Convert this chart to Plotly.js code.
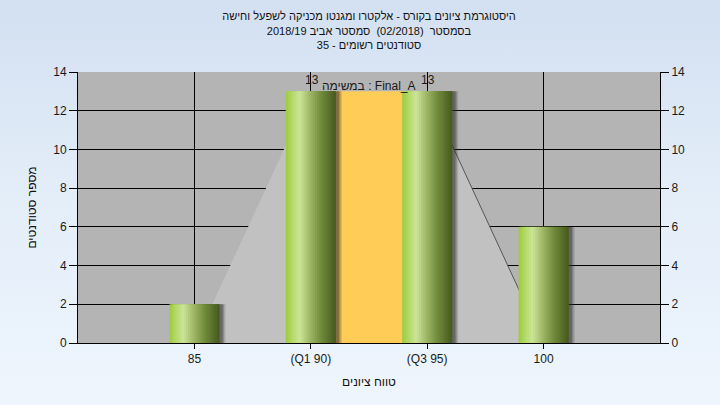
<!DOCTYPE html>
<html>
<head>
<meta charset="utf-8">
<script src="https://cdn.plot.ly/plotly-3.0.1.min.js"></script>
<style>
  html, body { margin: 0; padding: 0; width: 720px; height: 405px; overflow: hidden;
    background: linear-gradient(to bottom, #d3e0f1 0%, #e4eef9 50%, #eef5fd 100%); }
  #chart { width: 720px; height: 405px; }
</style>
</head>
<body>
<div id="chart"></div>
<script>
// ---- data ----
const categories = ['85', '(Q1 90)', '(Q3 95)', '100'];
const counts = [2, 13, 13, 6];
const yTickVals = [0, 2, 4, 6, 8, 10, 12, 14];
const titleLines = [
  'היסטוגרמת ציונים בקורס - אלקטרו ומגנטו מכניקה לשפעל וחישה',
  'בסמסטר  (02/2018)  סמסטר אביב 2018/19',
  'סטודנטים רשומים - 35'
];
const xTitle = 'טווח ציונים';
const yTitle = 'מספר סטודנטים';
const boxLabel = 'במשימה : Final_A';
const q1Index = 1;
const q3Index = 2;

// ---- styling helpers ----
const FONT = 'Arial, "Liberation Sans", "DejaVu Sans", sans-serif';
const BAR_W = 0.43;
const N_SLICES = 24;
const stops = [
  [0.00, [157, 202, 60]],
  [0.12, [178, 216, 101]],
  [0.28, [203, 229, 153]],
  [0.45, [166, 190, 110]],
  [0.70, [113, 140, 60]],
  [1.00, [70, 88, 30]]
];
function gradColor(t) {
  for (let i = 0; i < stops.length - 1; i++) {
    const [p0, c0] = stops[i], [p1, c1] = stops[i + 1];
    if (t >= p0 && t <= p1) {
      const f = (t - p0) / (p1 - p0);
      const c = c0.map((v, j) => Math.round(v + (c1[j] - v) * f));
      return `rgb(${c[0]},${c[1]},${c[2]})`;
    }
  }
  return 'rgb(70,88,30)';
}

const maxCount = Math.max(...counts);
const traces = [];

// light grey trapezoid (min -> Q1 -> Q3 -> max)
traces.push({
  type: 'scatter', mode: 'lines', xaxis: 'x', yaxis: 'y',
  x: [categories[0], categories[q1Index], categories[q3Index], categories[3], categories[0]],
  y: [0, maxCount, maxCount, 0, 0],
  fill: 'toself', fillcolor: '#c1c1c1', line: {width: 0, color: 'rgba(0,0,0,0)'},
  hoverinfo: 'skip', showlegend: false
});
// right edge line
traces.push({
  type: 'scatter', mode: 'lines', xaxis: 'x', yaxis: 'y',
  x: [categories[q3Index], categories[3]],
  y: [maxCount, 0],
  line: {width: 1, color: '#555555'},
  hoverinfo: 'skip', showlegend: false
});
// orange interquartile box
traces.push({
  type: 'scatter', mode: 'lines', xaxis: 'x', yaxis: 'y',
  x: [categories[q1Index], categories[q1Index], categories[q3Index], categories[q3Index], categories[q1Index]],
  y: [0, maxCount, maxCount, 0, 0],
  fill: 'toself', fillcolor: '#ffcc57', line: {width: 0, color: 'rgba(0,0,0,0)'},
  hoverinfo: 'skip', showlegend: false
});

// shadows (on overlay axis so they sit above the background shapes)
const shadowLayers = [[0.052, 'rgba(60,60,60,0.18)'], [0.040, 'rgba(50,50,50,0.25)'], [0.028, 'rgba(40,40,40,0.35)']];
shadowLayers.forEach(([dx, col]) => {
  traces.push({
    type: 'bar', xaxis: 'x', yaxis: 'y2',
    x: categories, y: counts,
    width: BAR_W, offset: -BAR_W / 2 + dx,
    marker: {color: col, line: {width: 0}},
    hoverinfo: 'skip', showlegend: false
  });
});

// cylinder-shaded bars made of overlapping thin slices
const sliceW = BAR_W / N_SLICES;
for (let k = 0; k < N_SLICES; k++) {
  const off = -BAR_W / 2 + k * sliceW;
  const w = Math.min(2.5 * sliceW, BAR_W / 2 - off);
  traces.push({
    type: 'bar', xaxis: 'x', yaxis: 'y2',
    x: categories, y: counts,
    width: w, offset: off,
    marker: {color: gradColor((k + 0.5) / N_SLICES), line: {width: 0}},
    hoverinfo: 'skip', showlegend: false
  });
}

const annotations = counts.map((v, i) => ({
  x: categories[i], y: v, xref: 'x', yref: 'y2',
  text: String(v), showarrow: false, yanchor: 'bottom', yshift: 2, xshift: 1,
  font: {family: FONT, size: 12, color: '#1a1a1a'}
}));
annotations.push({
  x: (q1Index + q3Index) / 2, y: maxCount, xref: 'x', yref: 'y2',
  text: boxLabel, showarrow: false, yanchor: 'bottom', yshift: -4,
  font: {family: FONT, size: 12, color: '#1a1a1a'}
});

const axisCommon = {
  showline: true, linecolor: '#000', linewidth: 1,
  ticks: 'outside', tickcolor: '#000', tickwidth: 1,
  tickfont: {family: FONT, size: 12, color: '#1a1a1a'},
  zeroline: false
};

const layout = {
  width: 720, height: 405,
  paper_bgcolor: 'rgba(0,0,0,0)',
  plot_bgcolor: '#b4b4b4',
  margin: {l: 78, r: 60, t: 72, b: 62},
  barmode: 'overlay',
  showlegend: false,
  title: {
    text: titleLines.join('<br>'),
    font: {family: FONT, size: 11, color: '#111'},
    x: 0.5, xanchor: 'center', xref: 'paper',
    y: 0.95, yanchor: 'top'
  },
  xaxis: Object.assign({}, axisCommon, {
    type: 'category', categoryorder: 'array', categoryarray: categories,
    range: [-1, 4], ticklen: 5,
    showgrid: true, gridcolor: '#000', gridwidth: 1,
    title: {text: xTitle, font: {family: FONT, size: 12, color: '#111'}, standoff: 12}
  }),
  yaxis: Object.assign({}, axisCommon, {
    range: [0, 14], tickvals: yTickVals, ticklen: 8,
    showgrid: true, gridcolor: '#000', gridwidth: 1,
    title: {text: yTitle, font: {family: FONT, size: 12, color: '#111'}, standoff: 14}
  }),
  yaxis2: Object.assign({}, axisCommon, {
    overlaying: 'y', side: 'right',
    range: [0, 14], tickvals: yTickVals, ticklen: 8, showgrid: false
  }),
  annotations: annotations
};

Plotly.newPlot('chart', traces, layout, {staticPlot: true, displayModeBar: false});
</script>
</body>
</html>
